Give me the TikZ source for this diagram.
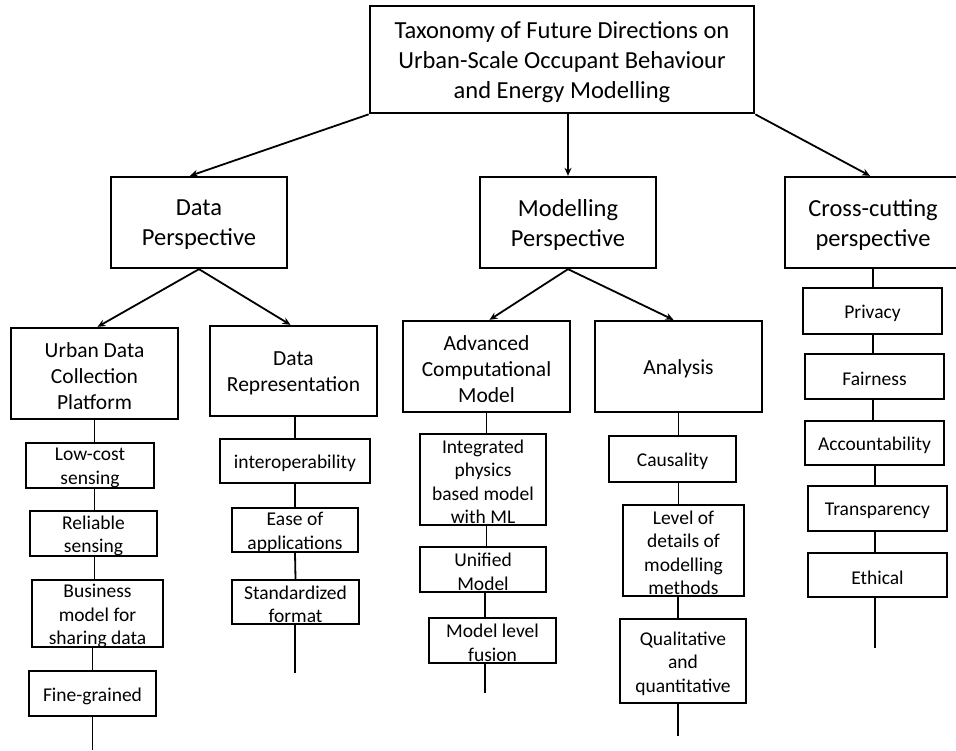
\documentclass[tikz,border=0pt]{standalone}
\usepackage{fontspec}
\setmainfont{Carlito}
\usetikzlibrary{arrows.meta,shadows}

% centred lines of text, set a little low in their box
\newcommand\ctext[1]{\raisebox{-2.5pt}[\height][\depth]{\vbox{\let\\\cr
  \halign{\hfil##\hfil\cr#1\crcr}}}}

\begin{document}
\begin{tikzpicture}[x=1pt,y=-1pt,
  box/.style={draw, line width=2.3pt, inner sep=0pt, fill=white,
    drop shadow={shadow xshift=1.3pt, shadow yshift=-1.3pt, opacity=0.35}},
  rootbox/.style={box, line width=2.7pt, font=\fontsize{24.5}{30}\selectfont},
  topbox/.style={box, font=\fontsize{24.5}{30}\selectfont},
  midbox/.style={box, font=\fontsize{21.5}{26}\selectfont},
  leaf/.style={draw, line width=1.9pt, inner sep=0pt, fill=white,
    font=\fontsize{19.5}{23.5}\selectfont},
  link/.style={line width=1.8pt},
  arr/.style={link, -{Stealth[length=8pt,width=7pt]}},
]
\useasboundingbox (0,0) rectangle (956,750);

% root
\node[rootbox, minimum width=384pt, minimum height=107pt] (root) at (562,59.5)
  {\ctext{Taxonomy of Future Directions on\\Urban-Scale Occupant Behaviour\\and Energy Modelling}};

% perspectives
\node[topbox, minimum width=176pt, minimum height=91pt] (data)  at (199,222.5) {\ctext{Data\\Perspective}};
\node[topbox, minimum width=176pt, minimum height=91pt] (model) at (568,222.5) {\ctext{Modelling\\Perspective}};
\node[topbox, minimum width=176pt, minimum height=91pt] (cross) at (873,222.5) {\ctext{Cross-cutting\\perspective}};

% second level
\node[midbox, minimum width=167pt, minimum height=91pt] (urban)    at (94.5,373.5)  {\ctext{Urban Data\\Collection\\Platform}};
\node[midbox, minimum width=167pt, minimum height=90pt] (datarep)  at (293.5,371)   {\ctext{Data\\Representation}};
\node[midbox, minimum width=167pt, minimum height=91pt] (acm)      at (486.5,366.5) {\ctext{Advanced\\Computational\\Model}};
\node[midbox, minimum width=167pt, minimum height=91pt] (analysis) at (678.5,366.5) {\ctext{Analysis}};

% leaves: urban data collection platform
\node[leaf, minimum width=128pt, minimum height=45pt] (low)  at (90,465.5)   {\ctext{Low-cost\\sensing}};
\node[leaf, minimum width=127pt, minimum height=45pt] (rel)  at (93.5,533.5) {\ctext{Reliable\\sensing}};
\node[leaf, minimum width=131pt, minimum height=67pt] (bus)  at (97.5,613.5) {\ctext{Business\\model for\\sharing data}};
\node[leaf, minimum width=127pt, minimum height=45pt] (fine) at (92.5,693.5) {\ctext{Fine-grained}};
\coordinate (tailA) at (92.5,750);

% leaves: data representation
\node[leaf, minimum width=150pt, minimum height=44pt] (inter) at (295,461)   {\ctext{interoperability}};
\node[leaf, minimum width=126pt, minimum height=44pt] (ease)  at (295,530)   {\ctext{Ease of\\applications}};
\node[leaf, minimum width=127pt, minimum height=44pt] (std)   at (295.5,602) {\ctext{Standardized\\format}};
\coordinate (tailB) at (295,673);

% leaves: advanced computational model
\node[leaf, minimum width=126pt, minimum height=91pt] (integ)   at (483,479.5)   {\ctext{Integrated\\physics\\based model\\with ML}};
\node[leaf, minimum width=126pt, minimum height=45pt] (unified) at (483,569.5)   {\ctext{Unified\\Model}};
\node[leaf, minimum width=127pt, minimum height=45pt] (fusion)  at (492.5,640.5) {\ctext{Model level\\fusion}};
\coordinate (tailC) at (485,693);

% leaves: analysis
\node[leaf, minimum width=127pt, minimum height=46pt] (caus)  at (672.5,459) {\ctext{Causality}};
\node[leaf, minimum width=121pt, minimum height=91pt] (level) at (683.5,550.5) {\ctext{Level of\\details of\\modelling\\methods}};
\node[leaf, minimum width=126pt, minimum height=84pt] (qual)  at (683,661)   {\ctext{Qualitative\\and\\quantitative}};
\coordinate (tailD) at (678,736);

% leaves: cross-cutting perspective
\node[leaf, line width=1.6pt, minimum width=139pt, minimum height=46pt] (priv)  at (872.5,311)   {\ctext{Privacy}};
\node[leaf, line width=1.6pt, minimum width=139pt, minimum height=45pt] (fair)  at (874.5,376.5) {\ctext{Fairness}};
\node[leaf, line width=1.6pt, minimum width=139pt, minimum height=44pt] (acc)   at (874.5,443)   {\ctext{Accountability}};
\node[leaf, line width=1.6pt, minimum width=139pt, minimum height=45pt] (trans) at (877.5,508.5) {\ctext{Transparency}};
\node[leaf, line width=1.6pt, minimum width=139pt, minimum height=44pt] (eth)   at (877.5,575)   {\ctext{Ethical}};
\coordinate (tailE) at (875,648);

% arrows from the root
\draw[arr] (root.south west) -- ([xshift=-9pt]data.north);
\draw[arr] (root.south -| model.north) -- (model.north);
\draw[arr] (root.south east) -- ([xshift=-3pt]cross.north);

% arrows to the second level
\draw[arr] (data.south) -- ([xshift=3pt]urban.north);
\draw[arr] (data.south) -- ([xshift=-3pt]datarep.north);
\draw[arr] (model.south) -- ([xshift=3pt]acm.north);
\draw[arr] (model.south) -- ([xshift=-5pt]analysis.north);

% vertical chains
\draw[link] (urban) -- (urban |- low.north);
\draw[link] (urban |- low.south) -- (urban |- rel.north);
\draw[link] (urban |- rel.south) -- (urban |- bus.north);
\draw[link] (tailA |- bus.south) -- (tailA |- fine.north);
\draw[link] (fine.south) -- (tailA);

\draw[link] (datarep.south -| inter.north) -- (inter.north);
\draw[link] (inter.south) -- (ease.north);
\draw[link] (ease.south) -- (std.north);
\draw[link] (std.south -| tailB) -- (tailB);

\draw[link] (acm) -- (acm |- integ.north);
\draw[link] (acm |- integ.south) -- (acm |- unified.north);
\draw[link] (tailC |- unified.south) -- (tailC |- fusion.north);
\draw[link] (tailC |- fusion.south) -- (tailC);

\draw[link] (analysis) -- (analysis |- caus.north);
\draw[link] (analysis |- caus.south) -- (analysis |- level.north);
\draw[link] (tailD |- level.south) -- (tailD |- qual.north);
\draw[link] (tailD |- qual.south) -- (tailD);

\draw[link] (cross) -- (cross |- priv.north);
\draw[link] (cross |- priv.south) -- (cross |- fair.north);
\draw[link] (cross |- fair.south) -- (cross |- acc.north);
\draw[link] (tailE |- acc.south) -- (tailE |- trans.north);
\draw[link] (tailE |- trans.south) -- (tailE |- eth.north);
\draw[link] (tailE |- eth.south) -- (tailE);
\end{tikzpicture}
\end{document}
